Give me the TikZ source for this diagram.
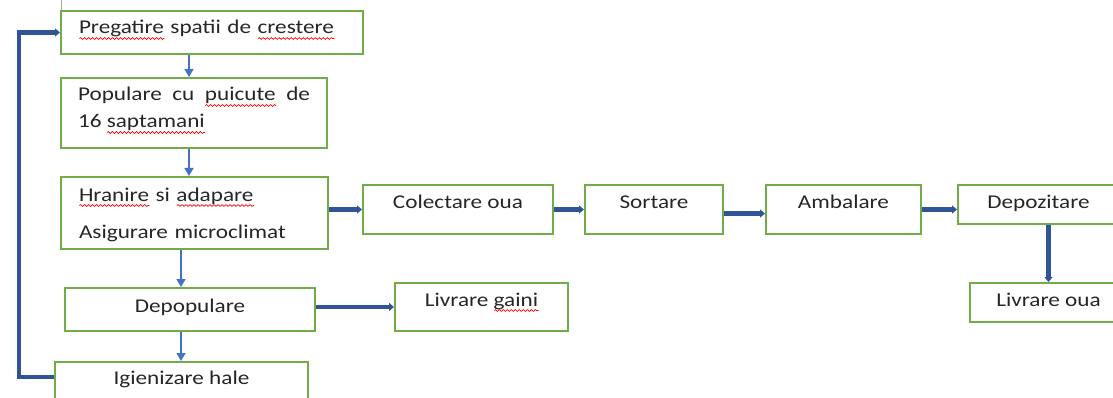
\documentclass[tikz,border=0pt]{standalone}
\usepackage{fontspec}
\setmainfont[FakeStretch=1.19]{Carlito}
\usepackage{xcolor}
\usepackage{tikz}
\usetikzlibrary{arrows.meta,positioning,calc,decorations.pathmorphing}
\definecolor{FlowGreen}{HTML}{70AD47}
\definecolor{FlowBlue}{HTML}{4472C4}
\definecolor{FlowNavy}{HTML}{2F5597}
\definecolor{FlowInk}{HTML}{262626}
\definecolor{FlowRule}{HTML}{A6A6A6}
\newsavebox{\spellbox}
\newlength{\spellw}
\newcommand{\spellmark}[1]{\sbox{\spellbox}{#1}\setlength{\spellw}{\wd\spellbox}%
  \rlap{\tikz[baseline=0pt,x=1pt,y=1pt]\draw[red,line width=0.7pt,decorate,decoration={snake,amplitude=0.9pt,segment length=4pt}] (0,-4.5) -- (\spellw,-4.5);}\usebox{\spellbox}}

\begin{document}
\begin{tikzpicture}[x=1pt,y=-1pt,
  stage/.style={draw=FlowGreen,line width=2pt,inner xsep=0pt,inner ysep=0pt,text height=23pt,text=FlowInk,font=\fontsize{19.5}{27}\selectfont,anchor=north west},
  thin/.style={-{Triangle[length=8pt,width=9pt]},FlowBlue,line width=1.5pt},
  heavy/.style={-{Triangle[length=5pt,width=8pt]},FlowNavy,line width=4.5pt},
]
\clip (0,0) rectangle (1113,398);
\node[stage,text width=266pt,inner xsep=18pt,text depth=20pt,align=left] (a) at (60,10) {\spellmark{Pregatire} spatii de \spellmark{crestere}};
\node[stage,text width=232pt,inner xsep=17pt,text depth=47pt,align=justify] (b) at (60,77) {Populare cu \spellmark{puicute} de\linebreak 16 \spellmark{saptamani}};
\node[stage,text width=231pt,inner xsep=18pt,text height=24pt,text depth=48pt,align=left] (c) at (60,176) {\spellmark{Hranire} si \spellmark{adapare}\\[10pt]Asigurare microclimat};
\node[stage,minimum width=250pt,text height=24pt,text depth=19pt] (d) at (64,287) {Depopulare};
\node[stage,minimum width=253pt,text height=22pt,text depth=24pt] (e) at (54,361) {Igienizare hale};
\node[stage,minimum width=190pt,text depth=26pt] (f) at (362,184) {Colectare oua};
\node[stage,minimum width=138pt,text depth=26pt] (g) at (584,184) {Sortare};
\node[stage,minimum width=155pt,text depth=26pt] (h) at (765,184) {Ambalare};
\node[stage,minimum width=161pt,text depth=16pt] (i) at (957,184) {Depozitare};
\node[stage,minimum width=157pt,text depth=16pt] (j) at (969,282) {Livrare oua};
\node[stage,minimum width=173pt,text depth=25pt] (k) at (394,282) {Livrare \spellmark{gaini}};
\coordinate (s1) at (189,0);
\coordinate (s2) at (181,0);
\coordinate (back) at (19,200);
\coordinate (cut) at (61,0);
\draw[FlowRule,line width=1pt] (cut) -- (cut |- a.north);
\draw[thin] (a.south -| s1) -- (b.north -| s1);
\draw[thin] (b.south -| s1) -- (c.north -| s1);
\draw[thin] (c.south -| s2) -- (d.north -| s2);
\draw[thin] (d.south -| s2) -- (e.north -| s2);
\draw[heavy] (c.east |- f.west) -- (f.west);
\draw[heavy] (f.east) -- (g.west);
\draw[heavy] ([yshift=-4pt]g.east) -- ([yshift=-4pt]h.west);
\draw[heavy] (h.east) -- (h.east -| i.west);
\draw[heavy] (j.north |- i.south) -- (j.north);
\draw[heavy] (d.east |- k.west) -- (k.west);
\draw[heavy] ([yshift=8pt]e.west) -| (back) |- (a.west);
\end{tikzpicture}
\end{document}
